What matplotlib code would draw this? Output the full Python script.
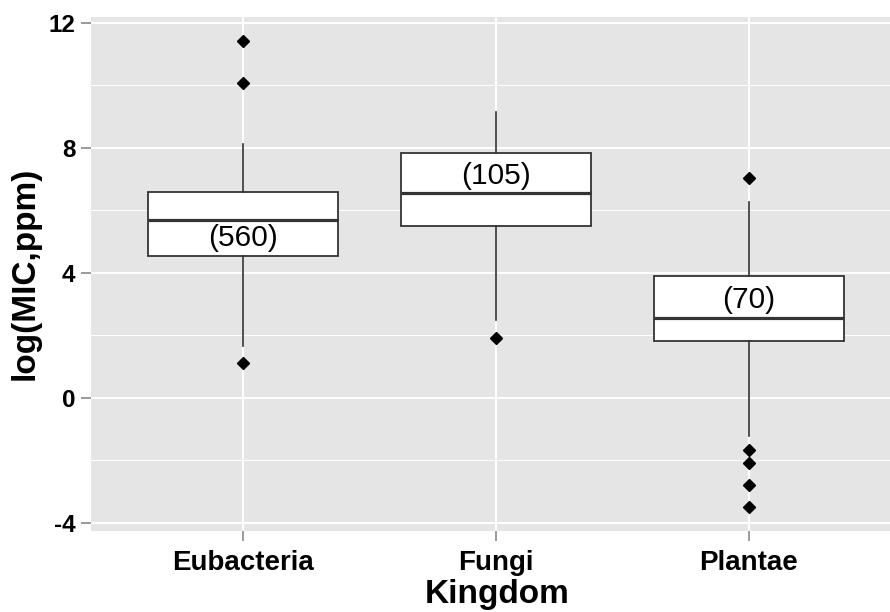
import matplotlib.pyplot as plt
import numpy as np

plt.rcParams['font.family'] = ['Liberation Sans', 'DejaVu Sans']
plt.rcParams['axes.unicode_minus'] = False

kingdoms = ['Eubacteria', 'Fungi', 'Plantae']
q1 = [4.52, 5.50, 1.83]
med = [5.70, 6.55, 2.56]
q3 = [6.59, 7.84, 3.88]
whislo = [1.65, 2.50, -1.23]
whishi = [8.11, 9.14, 6.27]
outliers = [[11.42, 10.08, 1.10], [1.90], [7.04, -1.66, -2.10, -2.80, -3.50]]
counts = ['(560)', '(105)', '(70)']
label_y = [5.10, 7.11, 3.12]

stats = []
for i in range(len(kingdoms)):
    stats.append(dict(med=med[i], q1=q1[i], q3=q3[i], whislo=whislo[i],
                      whishi=whishi[i], fliers=outliers[i], label=kingdoms[i]))

fig = plt.figure(figsize=(8.9, 6.12), dpi=100)
ax = fig.add_axes([0.1019, 0.1324, 0.8981, 0.8403])
ax.set_facecolor('#E5E5E5')

pos = np.arange(1, len(kingdoms) + 1)
ax.bxp(stats, positions=pos, widths=0.75, patch_artist=True, showcaps=False,
       boxprops=dict(facecolor='white', edgecolor='#333333', linewidth=1.3),
       medianprops=dict(color='#333333', linewidth=2.3),
       whiskerprops=dict(color='#333333', linewidth=1.2),
       flierprops=dict(marker='D', markerfacecolor='black', markeredgecolor='black',
                       markersize=6),
       zorder=3)

for x, t, y in zip(pos, counts, label_y):
    ax.text(x, y, t, ha='center', va='center', fontsize=21.5, color='black', zorder=4)

ax.set_xlim(0.4, 3.557)
ax.set_ylim(-4.26, 12.19)
ax.set_yticks([-4, 0, 4, 8, 12])
ax.set_yticks([-2, 2, 6, 10], minor=True)
ax.set_xticks(pos)
ax.set_xticklabels(kingdoms)

ax.grid(which='major', color='white', linewidth=1.4, zorder=0)
ax.grid(which='minor', axis='y', color='white', linewidth=0.7, zorder=0)
ax.set_axisbelow(True)
for s in ax.spines.values():
    s.set_visible(False)

ax.tick_params(axis='both', which='major', length=7, width=1.1, color='#7F7F7F', pad=4)
ax.tick_params(axis='x', which='major', pad=7)
ax.tick_params(axis='y', which='minor', length=0)
for lab in ax.get_yticklabels():
    lab.set_fontsize(17.5)
    lab.set_fontweight('bold')
for lab in ax.get_xticklabels():
    lab.set_fontsize(20)
    lab.set_fontweight('bold')

ax.set_xlabel('Kingdom', fontsize=24, fontweight='bold', labelpad=2)
ax.xaxis.label.set_x(0.508)
ax.set_ylabel('log(MIC,ppm)', fontsize=24, fontweight='bold', labelpad=6)

fig.savefig('out.png', dpi=100)
